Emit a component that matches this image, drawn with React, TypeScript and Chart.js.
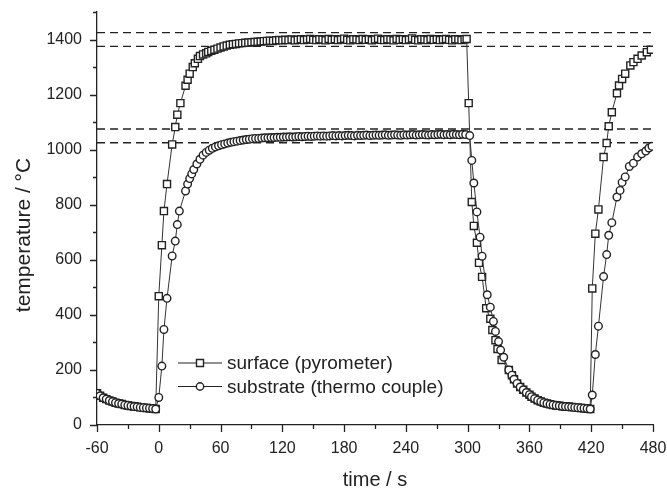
import { useEffect, useRef } from 'react';
import { Chart, registerables } from 'chart.js';

Chart.register(...registerables);

// ---- data: [time (s), temperature (°C)] ----
const preHeat: [number, number][] = [
  [-60, 115], [-57, 106], [-54, 99], [-51, 94], [-48, 89], [-45, 85], [-42, 81], [-39, 78],
  [-36, 76], [-33, 73], [-30, 71], [-27, 69], [-24, 67], [-21, 66], [-18, 64], [-15, 63],
  [-12, 62], [-9, 61], [-6, 60], [-3, 58],
];

const surfaceHeat1: [number, number][] = [
  [0, 468], [3, 653], [5, 777], [8, 875], [13, 1019], [16, 1082], [18, 1127], [21, 1169],
  [26, 1232], [28, 1254], [30, 1276], [33, 1300], [35, 1314], [38, 1330], [40, 1340], [43, 1346],
  [46, 1350], [48, 1355], [51, 1359], [54, 1363], [57, 1367], [60, 1371], [63, 1375], [66, 1378],
  [69, 1381], [72, 1383], [75, 1384], [78, 1386], [81, 1387], [84, 1388], [87, 1389], [90, 1390],
];

const surfacePlateau: [number, number][] = [
  [93, 1391], [96, 1392], [99, 1393], [102, 1394], [105, 1395], [108, 1396], [111, 1395], [114, 1397],
  [117, 1398], [120, 1397], [123, 1399], [126, 1398], [129, 1400], [132, 1397], [135, 1399], [138, 1401],
  [141, 1398], [144, 1400], [147, 1402], [150, 1399], [153, 1398], [156, 1401], [159, 1400], [162, 1397],
  [165, 1402], [168, 1399], [171, 1401], [174, 1398], [177, 1400], [180, 1403], [183, 1399], [186, 1397],
  [189, 1401], [192, 1400], [195, 1398], [198, 1402], [201, 1399], [204, 1401], [207, 1397], [210, 1400],
  [213, 1403], [216, 1399], [219, 1398], [222, 1401], [225, 1400], [228, 1397], [231, 1402], [234, 1399],
  [237, 1401], [240, 1398], [243, 1400], [246, 1404], [249, 1399], [252, 1397], [255, 1401], [258, 1400],
  [261, 1398], [264, 1402], [267, 1399], [270, 1401], [273, 1398], [276, 1400], [279, 1402], [282, 1399],
  [285, 1397], [288, 1401], [291, 1400], [294, 1398], [297, 1401], [299, 1402],
];

const surfaceCool: [number, number][] = [
  [301, 1169], [304, 810], [306, 723], [309, 662], [311, 589], [314, 538], [318, 424], [322, 386],
  [324, 345], [327, 308], [329, 276], [333, 236],
];

const coolTail: [number, number][] = [
  [340, 200], [343, 181], [345, 166], [348, 151], [351, 138], [354, 128], [357, 118], [360, 110],
  [362, 103], [365, 96], [368, 90], [371, 85], [374, 81], [377, 78], [380, 75], [383, 73],
  [386, 71], [389, 70], [392, 68], [395, 67], [398, 66], [401, 65], [404, 64], [407, 63],
  [410, 62], [413, 61], [416, 60], [419, 58],
];

const surfaceHeat2: [number, number][] = [
  [421, 496], [424, 695], [427, 783], [432, 973], [435, 1024], [437, 1085], [440, 1136], [445, 1205],
  [447, 1233], [450, 1257], [453, 1276], [458, 1306], [461, 1318], [465, 1330], [469, 1342], [474, 1354],
  [478, 1363],
];

const substrateHeat1: [number, number][] = [
  [0, 100], [3, 214], [5, 347], [8, 460], [13, 614], [16, 668], [18, 728], [20, 777],
  [26, 850], [28, 875], [30, 895], [32, 912], [34, 928], [37, 948], [40, 965], [43, 980],
  [46, 990], [49, 998], [52, 1005], [55, 1010], [58, 1014], [61, 1018], [64, 1021], [67, 1024],
  [70, 1027], [73, 1029], [76, 1031], [79, 1033], [82, 1035], [85, 1037], [88, 1038], [91, 1040],
];

const substratePlateau: [number, number][] = [
  [94, 1041], [97, 1041], [100, 1042], [103, 1043], [106, 1043], [109, 1044], [112, 1044], [115, 1045],
  [118, 1045], [121, 1046], [124, 1046], [127, 1047], [130, 1046], [133, 1047], [136, 1048], [139, 1047],
  [142, 1048], [145, 1049], [148, 1048], [151, 1049], [154, 1050], [157, 1049], [160, 1050], [163, 1049],
  [166, 1050], [169, 1051], [172, 1050], [175, 1051], [178, 1050], [181, 1051], [184, 1052], [187, 1051],
  [190, 1050], [193, 1052], [196, 1051], [199, 1052], [202, 1053], [205, 1051], [208, 1052], [211, 1053],
  [214, 1052], [217, 1053], [220, 1054], [223, 1052], [226, 1053], [229, 1054], [232, 1053], [235, 1052],
  [238, 1054], [241, 1053], [244, 1054], [247, 1055], [250, 1053], [253, 1054], [256, 1055], [259, 1054],
  [262, 1053], [265, 1055], [268, 1054], [271, 1055], [274, 1056], [277, 1054], [280, 1055], [283, 1054],
  [286, 1056], [289, 1055], [292, 1054], [295, 1056], [298, 1055], [302, 1051],
];

const substrateCool: [number, number][] = [
  [304, 961], [306, 879], [309, 774], [312, 682], [314, 613], [319, 473], [322, 428], [325, 376],
  [327, 340], [330, 303], [332, 272], [335, 246],
];

const substrateHeat2: [number, number][] = [
  [421, 109], [424, 256], [427, 359], [432, 539], [435, 619], [437, 689], [440, 735], [445, 828],
  [448, 852], [450, 881], [453, 901], [457, 939], [461, 951], [465, 973], [469, 985], [473, 995],
  [476, 1006], [479, 1012],
];

const dashLevels = [1425, 1375, 1075, 1025];
const xTickValues = [-60, 0, 60, 120, 180, 240, 300, 360, 420, 480];
const yTickValues = [0, 200, 400, 600, 800, 1000, 1200, 1400];
const legendLabels = ['surface (pyrometer)', 'substrate (thermo couple)'];
const xTitle = 'time / s';
const yTitle = 'temperature / °C';

const FONT = '"Liberation Sans", Arial, Helvetica, sans-serif';
const INK = '#222222';

const toXY = (pts: [number, number][]) => pts.map(([x, y]) => ({ x, y }));

export default function App() {
  const ref = useRef<HTMLCanvasElement | null>(null);

  useEffect(() => {
    if (!ref.current) return;
    document.body.style.margin = '0';

    const surface = [...preHeat, ...surfaceHeat1, ...surfacePlateau, ...surfaceCool, ...coolTail, ...surfaceHeat2];
    const substrate = [...preHeat, ...substrateHeat1, ...substratePlateau, ...substrateCool, ...coolTail, ...substrateHeat2];

    const overlay = {
      id: 'overlay',
      afterDraw(chart: any) {
        const { ctx, chartArea: a } = chart;
        const xs = chart.scales.x;
        const ys = chart.scales.y;
        ctx.save();
        ctx.strokeStyle = INK;
        ctx.lineWidth = 1.3;
        ctx.beginPath();
        for (let v = -60; v <= 480; v += 30) {
          const px = Math.round(xs.getPixelForValue(v)) + 0.5;
          const len = v % 60 === 0 ? 7 : 4;
          ctx.moveTo(px, a.bottom);
          ctx.lineTo(px, a.bottom + len);
        }
        for (let v = 0; v <= 1500; v += 100) {
          const py = Math.round(ys.getPixelForValue(v)) + 0.5;
          const len = v % 200 === 0 ? 7 : 4;
          ctx.moveTo(a.left, py);
          ctx.lineTo(a.left - len, py);
        }
        ctx.stroke();

        // axis titles
        ctx.fillStyle = INK;
        ctx.textAlign = 'center';
        ctx.textBaseline = 'alphabetic';
        ctx.font = `20px ${FONT}`;
        ctx.fillText(xTitle, (a.left + a.right) / 2, 486);
        ctx.save();
        ctx.font = `21px ${FONT}`;
        ctx.translate(30, 235);
        ctx.rotate(-Math.PI / 2);
        ctx.fillText(yTitle, 0, 0);
        ctx.restore();

        // legend
        const rows = [363, 386.5];
        ctx.font = `19px ${FONT}`;
        ctx.textAlign = 'left';
        ctx.textBaseline = 'middle';
        rows.forEach((ry, i) => {
          ctx.strokeStyle = INK;
          ctx.lineWidth = 1;
          ctx.beginPath();
          ctx.moveTo(178, ry);
          ctx.lineTo(222, ry);
          ctx.stroke();
          ctx.fillStyle = '#ffffff';
          ctx.lineWidth = 1.4;
          ctx.beginPath();
          if (i === 0) {
            ctx.rect(196.5, ry - 3.5, 7, 7);
          } else {
            ctx.arc(200, ry, 3.7, 0, Math.PI * 2);
          }
          ctx.fill();
          ctx.stroke();
          ctx.fillStyle = INK;
          ctx.fillText(legendLabels[i], 227, ry + 1);
        });
        ctx.restore();
      },
    };

    const dashSets = dashLevels.map((lvl) => ({
      label: 'ref ' + lvl,
      data: [{ x: -60, y: lvl }, { x: 480, y: lvl }],
      borderColor: INK,
      borderWidth: 1.4,
      borderDash: [8, 5],
      pointRadius: 0,
      order: 3,
    }));

    const chart = new Chart(ref.current, {
      type: 'line',
      data: {
        datasets: [
          {
            label: legendLabels[0],
            data: toXY(surface),
            borderColor: '#333333',
            borderWidth: 1,
            pointStyle: 'rect',
            pointRadius: 5,
            pointBorderWidth: 1.4,
            pointBorderColor: INK,
            pointBackgroundColor: '#ffffff',
            order: 2,
          },
          {
            label: legendLabels[1],
            data: toXY(substrate),
            borderColor: '#333333',
            borderWidth: 1,
            pointStyle: 'circle',
            pointRadius: 3.8,
            pointBorderWidth: 1.4,
            pointBorderColor: INK,
            pointBackgroundColor: '#ffffff',
            order: 1,
          },
          ...dashSets,
        ],
      },
      options: {
        animation: false,
        responsive: false,
        layout: { padding: { top: 12, right: 14, left: 0, bottom: 0 } },
        plugins: { legend: { display: false }, tooltip: { enabled: false } },
        scales: {
          x: {
            type: 'linear',
            min: -60,
            max: 480,
            afterFit: (s: any) => {
              s.height = 65;
              s.paddingLeft = 0;
              s.paddingRight = 0;
              s.paddingTop = 0;
              s.paddingBottom = 0;
            },
            afterBuildTicks: (s: any) => { s.ticks = xTickValues.map((v) => ({ value: v })); },
            grid: { display: true, drawOnChartArea: false, drawTicks: true, tickLength: 7, color: 'rgba(0,0,0,0)' },
            border: { display: true, color: INK, width: 1.3 },
            ticks: {
              color: INK,
              font: { family: FONT, size: 16 },
              padding: 7,
              maxRotation: 0,
              autoSkip: false,
              callback: (v: any) => String(v),
            },
          },
          y: {
            type: 'linear',
            min: 0,
            max: 1500,
            afterFit: (s: any) => {
              s.width = 97;
              s.paddingLeft = 0;
              s.paddingRight = 0;
              s.paddingTop = 0;
              s.paddingBottom = 0;
            },
            afterBuildTicks: (s: any) => { s.ticks = yTickValues.map((v) => ({ value: v })); },
            grid: { display: true, drawOnChartArea: false, drawTicks: true, tickLength: 7, color: 'rgba(0,0,0,0)' },
            border: { display: true, color: INK, width: 1.3 },
            ticks: {
              color: INK,
              font: { family: FONT, size: 16 },
              padding: 8,
              autoSkip: false,
              callback: (v: any) => String(v),
            },
          },
        },
      },
      plugins: [overlay],
    });

    return () => chart.destroy();
  }, []);

  return (
    <div style={{ position: 'absolute', left: 0, top: 0, width: 667, height: 490, background: '#fff' }}>
      <canvas ref={ref} width={667} height={490} style={{ width: 667, height: 490 }} />
    </div>
  );
}
